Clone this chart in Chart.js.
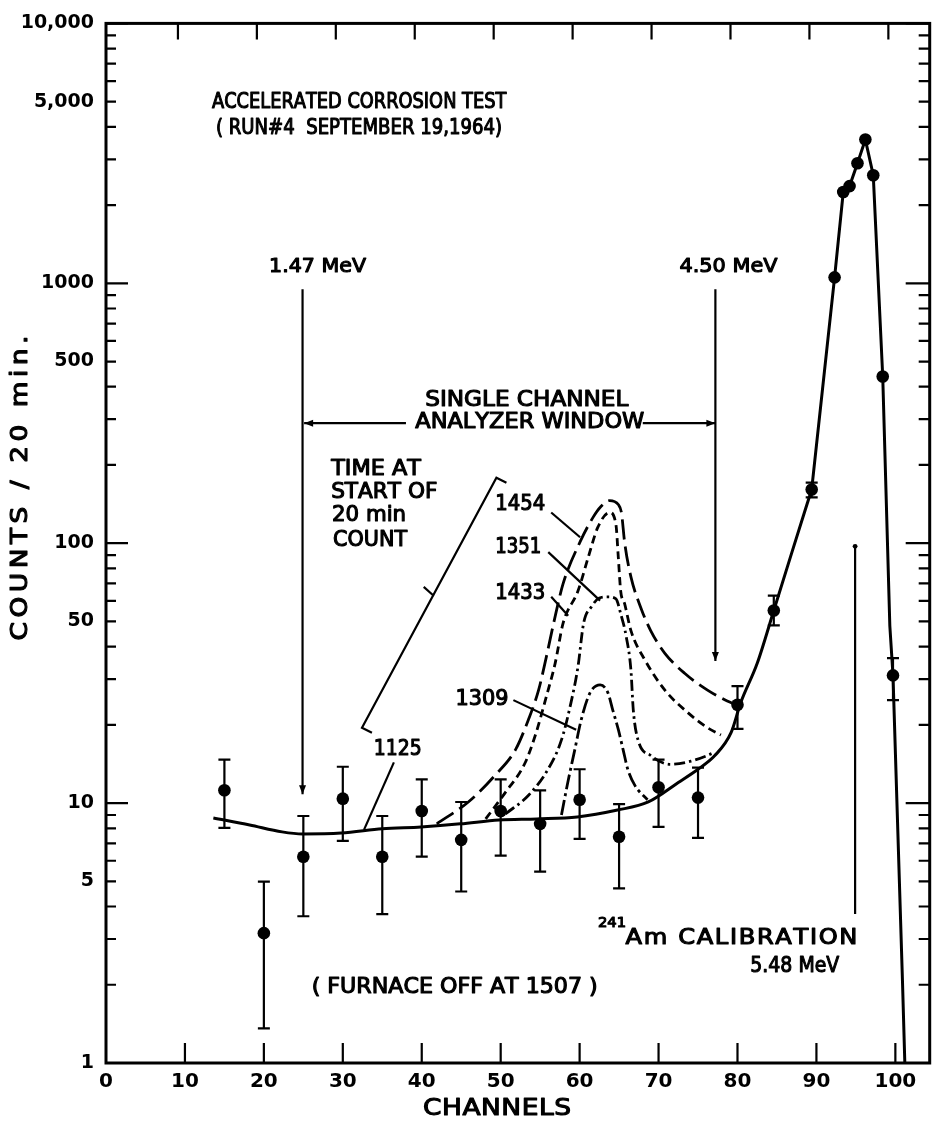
<!DOCTYPE html>
<html>
<head>
<meta charset="utf-8">
<script src="https://cdn.jsdelivr.net/npm/chart.js@4/dist/chart.umd.min.js"></script>
<style>
html,body{margin:0;padding:0;background:#fff;}
#c{display:block;}
</style>
</head>
<body>
<canvas id="c" width="936" height="1128"></canvas>
<script>
// ---------------- DATA ----------------
const X_TICK_VALUES = [0,10,20,30,40,50,60,70,80,90,100];
const X_TICK_LABELS = ['0','10','20','30','40','50','60','70','80','90','100'];
const Y_TICK_VALUES = [1,5,10,50,100,500,1000,5000,10000];
const Y_TICK_LABELS = ['1','5','10','50','100','500','1000','5,000','10,000'];

// measured points (channel, counts / 20 min) with error bars
const CHANNELS = [15,20,25,30,35,40,45,50,55,60,65,70,75,80,84.6,89.4,92.3,93.4,94.2,95.2,96.2,97.2,98.4,99.7];
const COUNTS   = [11.2,3.16,6.22,10.4,6.22,9.32,7.22,9.32,8.32,10.3,7.42,11.5,10.5,23.9,55.1,161,1054,2244,2366,2897,3573,2606,438,31];
const ERR_HIGH = [14.7,4.99,8.92,13.8,8.92,12.35,10.1,12.35,11.2,13.5,9.91,14.7,13.7,28.2,62.8,171,null,null,null,null,null,null,null,36.1];
const ERR_LOW  = [8.03,1.36,3.67,7.16,3.74,6.22,4.57,6.28,5.45,7.29,4.70,8.10,7.35,19.3,48.3,150,null,null,null,null,null,null,null,24.9];

// curve "1125" (solid): smooth background part, then the peak drawn point to point
const C1125_CH = [13.6,18.2,22.3,24.9,29.8,35.0,39.9,44.9,49.8,54.6,59.7,64.8,68.7,72.5,75.0,77.1,79.2,80.4,82.5,84.6,86.9,89.4];
const C1125_CT = [8.77,8.24,7.75,7.61,7.67,7.96,8.10,8.32,8.61,8.69,8.84,9.40,10.1,12.0,13.5,15.2,18.7,24.3,34.5,55.1,92.4,161];
const C1125_PEAK_CH = [89.4,92.3,93.4,94.2,95.2,96.2,97.2,98.4,99.3,99.7,100.9,101.2];
const C1125_PEAK_CT = [161,1054,2244,2366,2897,3573,2606,438,48,31,2.07,1];
// curve "1454" (long dash)
const C1454_CH = [41.9,45.9,49.3,51.9,53.5,54.8,55.8,56.7,57.9,60.1,61.7,62.7,63.8,64.9,65.3,65.7,66.5,67.8,69.0,70.8,73.3,76.2,78.7,79.8];
const C1454_CT = [8.32,10.1,12.8,16.1,20.9,27.2,36.7,49.1,69.7,101.8,125.7,138.4,145.9,140.9,131,100.9,74.2,56.0,46.1,37.7,31.6,27.2,24.7,23.9];
// curve "1433" (short dash)
const C1433_CH = [48.1,50.6,53.1,54.5,55.8,56.9,57.9,59.8,61.1,62.3,63.8,64.6,64.9,65.2,65.7,66.5,68.3,70.8,73.7,76.2,77.9];
const C1433_CT = [8.69,11.0,14.3,18.7,25.8,34.5,49.1,65.6,88.4,115,131.3,118,88.4,65.6,58.5,46.1,35.4,27.2,22.3,19.5,18.3];
// curve "1351" (dash-dot)
const C1351_CH = [50.6,53.5,56.0,57.7,58.9,59.8,60.5,61.5,62.5,63.6,64.6,65.2,65.9,66.5,66.8,67.4,69.0,71.5,74.1,76.2,77.1];
const C1351_CT = [9.08,10.7,13.5,17.5,24.3,33.6,49.1,57.0,61.5,62.2,61.1,53.6,43.8,32.5,22.8,17.5,15.25,14.1,14.5,15.25,15.7];
// curve "1309" (long dash-dot)
const C1309_CH = [57.7,58.5,59.4,60.2,61.3,62.6,63.6,64.2,64.9,65.5,66.1,67.0,68.6];
const C1309_CT = [9.0,12.0,16.1,20.9,26.5,28.5,26.5,22.8,19.2,16.1,13.5,11.7,10.3];

// ---------------- LAYOUT / STYLE ----------------
const FONT = '"DejaVu Sans", "Liberation Sans", sans-serif';
const INK = '#000';

// annotation texts anchored in data coordinates (channel, counts); w = target width in px
const NOTES = [
  {t:'ACCELERATED CORROSION TEST', ch:31.92, v:4900, w:292, size:20.5, align:'center'},
  {t:'( RUN#4  SEPTEMBER 19,1964)', ch:32.05, v:3900, w:286, size:20.5, align:'center'},
  {t:'1.47 MeV', ch:26.8, v:1141, w:97, size:19.5, align:'center'},
  {t:'4.50 MeV', ch:78.86, v:1141, w:98, size:19.5, align:'center'},
  {t:'SINGLE CHANNEL', ch:53.31, v:350, w:203, size:20.5, align:'center'},
  {t:'ANALYZER WINDOW', ch:53.5, v:288, w:226, size:20.5, align:'center'},
  {t:'TIME AT', ch:28.52, v:190, w:88, size:20.5, align:'left'},
  {t:'START OF', ch:28.52, v:155, w:103, size:20.5, align:'left'},
  {t:'20 min', ch:28.64, v:127, w:74, size:20.5, align:'left'},
  {t:'COUNT', ch:28.77, v:101, w:74, size:20.5, align:'left'},
  {t:'1454', ch:52.49, v:139.6, w:50, size:20.5, align:'center'},
  {t:'1351', ch:52.24, v:95.7, w:46, size:20.5, align:'center'},
  {t:'1433', ch:52.49, v:63.3, w:50, size:20.5, align:'center'},
  {t:'1309', ch:47.63, v:24.7, w:53, size:20.5, align:'center'},
  {t:'1125', ch:36.97, v:15.9, w:48, size:20.5, align:'center'},
  {t:'241', ch:64.1, v:3.394, w:28, size:14, align:'center'},
  {t:'Am CALIBRATION', ch:80.32, v:3.0, w:229, size:21, align:'center'},
  {t:'5.48 MeV', ch:87.26, v:2.325, w:89, size:21, align:'center'},
  {t:'( FURNACE OFF AT 1507 )', ch:44.04, v:1.933, w:284, size:20.5, align:'center'}
];

// annotation lines in data coordinates; end: 'arrow' | 'dot'
const NOTE_LINES = [
  {p:[[24.9,948.7],[24.9,10.82]], end:'arrow'},
  {p:[[77.2,948.7],[77.2,35.2]], end:'arrow'},
  {p:[[38.0,289.5],[25.1,289.5]], end:'arrow'},
  {p:[[68.0,289.5],[77.2,289.5]], end:'arrow'},
  {p:[[94.9,3.74],[94.9,97.3]], end:'dot'},
  {p:[[50.73,170.9],[49.46,178.6],[32.43,19.50],[33.69,18.66]]},
  {p:[[41.51,62.8],[40.25,67.9]]},
  {p:[[56.40,131.3],[60.06,105.4]]},
  {p:[[56.03,92.4],[62.59,60.1]]},
  {p:[[56.40,62.2],[58.55,52.6]]},
  {p:[[51.61,24.9],[59.56,19.16]]},
  {p:[[36.47,14.34],[32.68,7.89]]}
];

function zip(xs, ys){ return xs.map((x,i)=>({x:x, y:ys[i]})); }

// draws text so that it spans w px: horizontal scaling (up to 1.15x wider), remaining room as letter spacing
function fitText(ctx, text, x, y, w, size, align){
  ctx.font = size + 'px ' + FONT;
  ctx.lineWidth = 1.1;
  ctx.lineJoin = 'round';
  const m = ctx.measureText(text).width;
  const left = align === 'center' ? x - w/2 : x;
  const base = y + 0.36*size - 3;
  ctx.textAlign = 'left';
  ctx.textBaseline = 'alphabetic';
  const chars = Array.from(text);
  let s = w/m, extra = 0;
  if (s > 1.15){ s = 1.15; extra = chars.length > 1 ? (w - m*s)/(chars.length - 1) : 0; }
  ctx.save();
  ctx.translate(left, base);
  ctx.scale(s, 1);
  let cx = 0;
  for (const c of chars){
    ctx.fillText(c, cx, 0); ctx.strokeText(c, cx, 0);
    cx += ctx.measureText(c).width + extra/s;
  }
  ctx.restore();
}

const inkPlugin = {
  id: 'ink',
  beforeDatasetsDraw(chart){
    const ctx = chart.ctx, xs = chart.scales.x, ys = chart.scales.y;
    ctx.save();
    ctx.strokeStyle = INK; ctx.lineWidth = 2.2;
    CHANNELS.forEach((c,i)=>{
      if (ERR_HIGH[i] == null) return;
      const px = xs.getPixelForValue(c);
      const yh = ys.getPixelForValue(ERR_HIGH[i]);
      const yl = ys.getPixelForValue(ERR_LOW[i]);
      ctx.beginPath();
      ctx.moveTo(px, yh); ctx.lineTo(px, yl);
      ctx.moveTo(px-6, yh); ctx.lineTo(px+6, yh);
      ctx.moveTo(px-6, yl); ctx.lineTo(px+6, yl);
      ctx.stroke();
    });
    ctx.restore();
  },
  afterDraw(chart){
    const ctx = chart.ctx, xs = chart.scales.x, ys = chart.scales.y, a = chart.chartArea;
    ctx.save();
    ctx.strokeStyle = INK; ctx.fillStyle = INK;
    // frame
    ctx.lineWidth = 3;
    ctx.strokeRect(a.left, a.top, a.right - a.left, a.bottom - a.top);
    // y ticks (inside, both sides)
    ctx.lineWidth = 2.2;
    ctx.beginPath();
    for (let d = 1; d <= 10000; d *= 10){
      for (let m = 1; m <= 9; m++){
        const v = m*d; if (v > 10000) break;
        const py = ys.getPixelForValue(v);
        const major = (m === 1);
        ctx.moveTo(a.left, py); ctx.lineTo(a.left + (major ? 22 : 10), py);
        ctx.moveTo(a.right, py); ctx.lineTo(a.right - (major ? 24 : 11), py);
      }
    }
    // x ticks (inside, top and bottom)
    X_TICK_VALUES.forEach(v=>{
      if (v === 0) return;
      const px = xs.getPixelForValue(v);
      ctx.moveTo(px, a.bottom); ctx.lineTo(px, a.bottom - 20);
      ctx.moveTo(px - 7, a.top); ctx.lineTo(px - 7, a.top + 16);
    });
    ctx.stroke();

    // annotation lines
    ctx.lineWidth = 2.2;
    NOTE_LINES.forEach(L=>{
      const pts = L.p.map(q=>[xs.getPixelForValue(q[0]), ys.getPixelForValue(q[1])]);
      ctx.beginPath();
      ctx.moveTo(pts[0][0], pts[0][1]);
      for (let i=1;i<pts.length;i++) ctx.lineTo(pts[i][0], pts[i][1]);
      ctx.stroke();
      if (L.end){
        const e = pts[pts.length-1], s = pts[pts.length-2];
        if (L.end === 'arrow'){
          const ang = Math.atan2(e[1]-s[1], e[0]-s[0]);
          ctx.save(); ctx.translate(e[0], e[1]); ctx.rotate(ang);
          ctx.beginPath(); ctx.moveTo(0,0); ctx.lineTo(-9,-3.5); ctx.lineTo(-9,3.5); ctx.closePath(); ctx.fill();
          ctx.restore();
        } else {
          ctx.beginPath(); ctx.arc(e[0], e[1], 2.4, 0, Math.PI*2); ctx.fill();
        }
      }
    });

    // annotation texts
    NOTES.forEach(n=>{
      fitText(ctx, n.t, xs.getPixelForValue(n.ch), ys.getPixelForValue(n.v), n.w, n.size, n.align);
    });

    // axis titles
    fitText(ctx, 'CHANNELS', 497, 1110, 148, 23, 'center');
    ctx.save();
    ctx.translate(22, 488); ctx.rotate(-Math.PI/2);
    fitText(ctx, 'COUNTS / 20 min.', 0, 0, 305, 23, 'center');
    ctx.restore();
    ctx.restore();
  }
};

const curveBase = {showLine:true, borderColor:INK, pointRadius:0, cubicInterpolationMode:'monotone', fill:false};

new Chart(document.getElementById('c').getContext('2d'), {
  type: 'scatter',
  data: {
    datasets: [
      Object.assign({label:'1125', data: zip(C1125_CH, C1125_CT), borderWidth:3}, curveBase),
      Object.assign({label:'1125 peak', data: zip(C1125_PEAK_CH, C1125_PEAK_CT), borderWidth:3}, curveBase, {cubicInterpolationMode:'default', tension:0}),
      Object.assign({label:'1454', data: zip(C1454_CH, C1454_CT), borderWidth:2.8, borderDash:[20,7]}, curveBase),
      Object.assign({label:'1433', data: zip(C1433_CH, C1433_CT), borderWidth:2.8, borderDash:[8,5]}, curveBase),
      Object.assign({label:'1351', data: zip(C1351_CH, C1351_CT), borderWidth:2.8, borderDash:[11,4,2.5,4]}, curveBase),
      Object.assign({label:'1309', data: zip(C1309_CH, C1309_CT), borderWidth:2.8, borderDash:[15,4,3,4]}, curveBase),
      {label:'counts', data: zip(CHANNELS, COUNTS), showLine:false, pointRadius:6.3, pointHoverRadius:6.3,
       pointBackgroundColor:INK, pointBorderColor:INK, pointBorderWidth:0}
    ]
  },
  options: {
    responsive: false,
    animation: false,
    devicePixelRatio: 1,
    layout: {padding: {top:15, right:3, left:0, bottom:0}},
    plugins: {legend:{display:false}, tooltip:{enabled:false}},
    scales: {
      x: {
        type:'linear', min:0, max:104.35,
        afterFit(s){ s.height = 65; },
        afterBuildTicks(s){ s.ticks = X_TICK_VALUES.map(v=>({value:v})); },
        ticks: {autoSkip:false, maxRotation:0, padding:7, color:INK, font:{family:FONT, size:20, weight:'bold'},
                callback:(v)=>X_TICK_LABELS[X_TICK_VALUES.indexOf(v)]},
        grid: {display:false, drawTicks:false},
        border: {display:false}
      },
      y: {
        type:'logarithmic', min:1, max:10000,
        afterFit(s){ s.width = 106; },
        afterBuildTicks(s){ s.ticks = Y_TICK_VALUES.map(v=>({value:v})); },
        ticks: {autoSkip:false, padding:12, color:INK, font:{family:FONT, size:19, weight:'bold'},
                callback:(v)=>Y_TICK_LABELS[Y_TICK_VALUES.indexOf(v)]},
        grid: {display:false, drawTicks:false},
        border: {display:false}
      }
    }
  },
  plugins: [inkPlugin]
});
</script>
</body>
</html>
